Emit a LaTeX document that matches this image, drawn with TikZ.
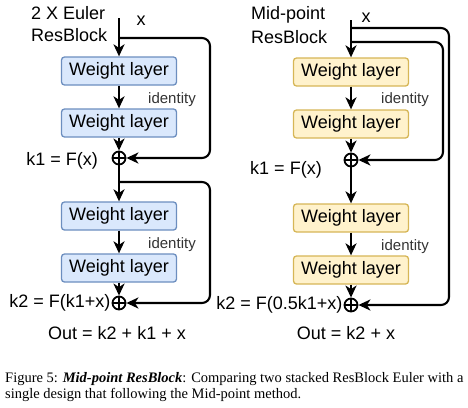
\documentclass[tikz,border=0pt]{standalone}
\usepackage{fontspec}
\setmainfont{Liberation Serif}
\setsansfont{Liberation Sans}
\usepackage{tikz}
\usetikzlibrary{arrows.meta}
\definecolor{eulerFill}{HTML}{DAE8FC}
\definecolor{eulerLine}{HTML}{6C8EBF}
\definecolor{midFill}{HTML}{FFF2CC}
\definecolor{midLine}{HTML}{D6B656}
\begin{document}
\begin{tikzpicture}[x=1pt,y=-1pt,
  font=\sffamily\fontsize{18}{22}\selectfont,
  wlayer/.style={draw,rounded corners=3pt,line width=1.3pt,minimum width=115pt,minimum height=28pt,inner sep=0pt},
  euler/.style={wlayer,fill=eulerFill,draw=eulerLine},
  midpt/.style={wlayer,fill=midFill,draw=midLine},
  plus/.style={circle,draw,line width=1.8pt,minimum size=13pt,inner sep=0pt,
    path picture={\draw[line width=1.6pt] (path picture bounding box.north) -- (path picture bounding box.south)
      (path picture bounding box.west) -- (path picture bounding box.east);}},
  conn/.style={line width=2.1pt,rounded corners=8pt},
  arr/.style={conn,-{Stealth[length=12pt,width=11pt,inset=3.5pt]}},
  idlabel/.style={font=\sffamily\fontsize{15}{18}\selectfont,text=black!80}]
\useasboundingbox (0,0) rectangle (468,407);
% 2 x Euler
\node[anchor=north west,align=left,inner sep=0pt] (titleL) at (31,6) {2 X Euler\\ResBlock};
\coordinate (inL) at (119,18);
\coordinate (s1L) at (119,38);
\coordinate (s2L) at (119,182);
\coordinate (eL) at (210,0);
\node[euler] (w1L) at (119,71) {Weight layer};
\node[euler] (w2L) at (119,123) {Weight layer};
\node[plus] (p1L) at (119,158) {};
\node[euler] (w3L) at (119,216) {Weight layer};
\node[euler] (w4L) at (119,268) {Weight layer};
\node[plus] (p2L) at (119,303) {};
\node (xL) at (141,21) {x};
\node[idlabel] (id1L) at (172,100) {identity};
\node[idlabel] (id2L) at (172,245) {identity};
\node[anchor=east,inner sep=0pt] (k1L) at (98,161) {k1 = F(x)};
\node[anchor=east,inner sep=1pt] (k2L) at (p2L.west) {k2 = F(k1+x)};
\node (outL) at (117,333) {Out = k2 + k1 + x};
\draw[arr] (inL) -- (w1L);
\draw[arr] (w1L) -- (w2L);
\draw[arr] (w2L) -- (p1L);
\draw[conn] (p1L) -- (s2L);
\draw[arr] (s2L) -- (w3L);
\draw[arr] (w3L) -- (w4L);
\draw[arr] (w4L) -- (p2L);
\draw[arr] (s1L) -- (s1L -| eL) |- (p1L);
\draw[arr] (s2L) -- (s2L -| eL) |- (p2L);
% Mid-point
\node[anchor=north west,align=left,inner sep=0pt,font=\sffamily\fontsize{18}{24}\selectfont] (titleR) at (251,6) {Mid-point\\ResBlock};
\coordinate (inR) at (351,20);
\coordinate (s0R) at (351,28);
\coordinate (s1R) at (351,42);
\coordinate (eoR) at (449,0);
\coordinate (eiR) at (443,0);
\node[midpt] (w1R) at (351,72) {Weight layer};
\node[midpt] (w2R) at (351,124) {Weight layer};
\node[plus] (p1R) at (351,160) {};
\node[midpt] (w3R) at (351,218) {Weight layer};
\node[midpt] (w4R) at (351,270) {Weight layer};
\node[plus] (p2R) at (351,305) {};
\node (xR) at (366,18) {x};
\node[idlabel] (id1R) at (405,100) {identity};
\node[idlabel] (id2R) at (405,247) {identity};
\node (k1R) at (286,170) {k1 = F(x)};
\node[anchor=east,inner sep=1pt] (k2R) at (p2R.west) {k2 = F(0.5k1+x)};
\node (outR) at (346,333) {Out = k2 + x};
\draw[arr] (inR) -- (w1R);
\draw[arr] (w1R) -- (w2R);
\draw[arr] (w2R) -- (p1R);
\draw[arr] (p1R) -- (w3R);
\draw[arr] (w3R) -- (w4R);
\draw[arr] (w4R) -- (p2R);
\draw[arr] (s0R) -- (s0R -| eoR) |- (p2R);
\draw[arr] (s1R) -- (s1R -| eiR) |- (p1R);
% caption
\node[anchor=north west,align=left,inner sep=0pt,font=\rmfamily\fontsize{14.5}{16}\selectfont] (cap) at (5,372)
  {Figure 5: \textbf{\textit{Mid-point ResBlock}}: Comparing two stacked ResBlock Euler with a\\
   single design that following the Mid-point method.};
\end{tikzpicture}
\end{document}
